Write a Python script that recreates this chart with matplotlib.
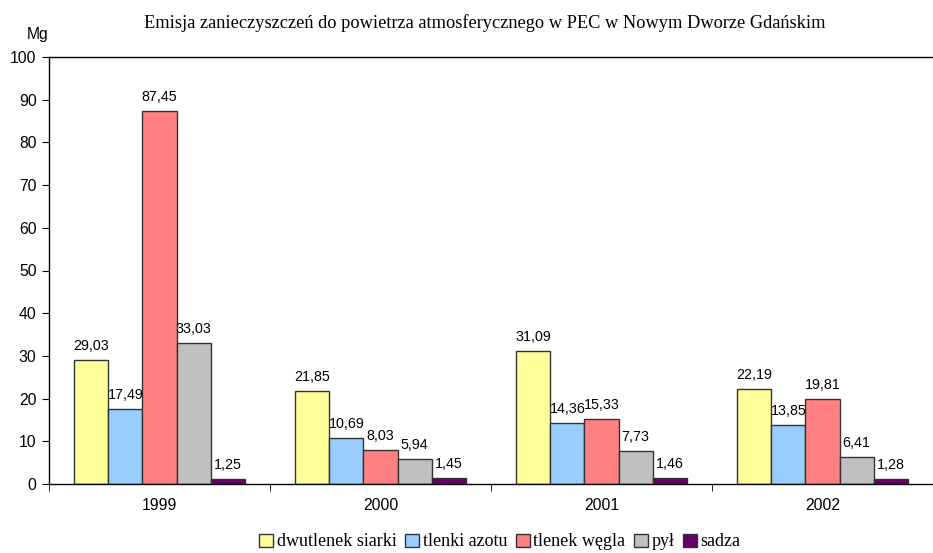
import numpy as np
import matplotlib.pyplot as plt

years = ['1999', '2000', '2001', '2002']
series = ['dwutlenek siarki', 'tlenki azotu', 'tlenek węgla', 'pył', 'sadza']
values = [
    [29.03, 21.85, 31.09, 22.19],
    [17.49, 10.69, 14.36, 13.85],
    [87.45, 8.03, 15.33, 19.81],
    [33.03, 5.94, 7.73, 6.41],
    [1.25, 1.45, 1.46, 1.28],
]
colors = ['#FFFF99', '#99CCFF', '#FF8080', '#C0C0C0', '#660066']

fig = plt.figure(figsize=(9.33, 5.53), dpi=100)
ax = fig.add_axes([49 / 933, 69 / 553, 884 / 933, 427 / 553])

x = np.arange(len(years))
w = 0.154
for i, (name, vals) in enumerate(zip(series, values)):
    pos = x + (i - 2) * w
    ax.bar(pos, vals, w, color=colors[i], edgecolor='#333333', linewidth=1, label=name)
    for px, v in zip(pos, vals):
        ax.annotate(f'{v:.2f}'.replace('.', ','), (px, v), xytext=(0, 5),
                    textcoords='offset points', ha='center', va='bottom',
                    fontsize=10.3, family='Liberation Sans')

ax.set_xlim(-0.5, -0.5 + 884 / 223.5)
ax.set_ylim(0, 100)
ax.set_yticks(range(0, 101, 10))
ax.set_xticks(x)
ax.set_xticklabels(years)
ax.set_xticks(np.arange(-0.5, 3.6, 1), minor=True)
ax.tick_params(axis='x', which='major', length=0, pad=10)
ax.tick_params(axis='x', which='minor', length=5, direction='out')
ax.tick_params(axis='y', length=5, direction='out', pad=4)
for lab in ax.get_xticklabels() + ax.get_yticklabels():
    lab.set_family('Liberation Sans')
    lab.set_fontsize(11.3)
ax.spines['right'].set_visible(False)
for s in ['left', 'bottom', 'top']:
    ax.spines[s].set_linewidth(1)

fig.text(48 / 933, 1 - 34 / 553, 'Mg', ha='right', va='center', fontsize=11.3, family='Liberation Sans')
fig.text(485 / 933, 1 - 23 / 553, 'Emisja zanieczyszczeń do powietrza atmosferycznego w PEC w Nowym Dworze Gdańskim',
         ha='center', va='center', fontsize=13.2, family='Liberation Serif')

fig.legend(loc='center', bbox_to_anchor=(500 / 933, 1 - 542 / 553), ncol=5, frameon=False,
           prop={'family': 'Liberation Serif', 'size': 13}, handlelength=0.75, handleheight=0.75,
           handletextpad=0.2, columnspacing=0.5, borderpad=0)

fig.savefig('out.png', dpi=100)
